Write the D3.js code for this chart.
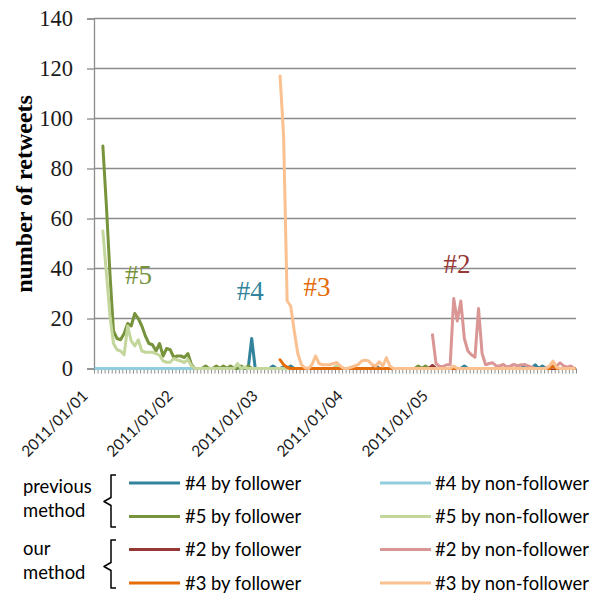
<!DOCTYPE html>
<html><head><meta charset="utf-8">
<script src="https://cdn.jsdelivr.net/npm/d3@7"></script>
<style>body{margin:0;background:#fff}svg{display:block}</style>
</head><body>
<svg id="chart" width="595" height="593"></svg>
<script>
// ---------- DATA ----------
const nCategories = 136;               // hourly categories
const dateLabels = ["2011/01/01","2011/01/02","2011/01/03","2011/01/04","2011/01/05"];
const labelEvery = 24;
const yTicks = [0,20,40,60,80,100,120,140];

// #4 by follower (starts at category 0)
const s4fStart = 0;
const s4f = [
 0,0,0,0,0,0,0,0,0,0,
 0,0,0,0,0,0,0,0,0,0,
 0,0,0,0,0,0,0,0,0,0,
 0,0,0,0,0,0,0,0,0,0,
 0,0,0,0,12,0,0,0,0,0,
 1,0,0,0.5,0,1,0,0,0,0,
 0,0,0,0,0,0,0,0,0,0,
 0,0,0,0,0,0,0,0,0,1.2,
 0,0,0,0,0,0,0,0,0,0,
 0,0,0,0,0,0,0,0,0,0,
 0,0,0,0,1,0,0,0,0,0,
 0,0,0,0,0,0,0,0,0,0,
 0,1.5,0,0,1.5,0,1,0,0,0,
 0,0,0,0,0,0];
// #4 by non-follower
const s4nfStart = 0;
const s4nf = [
 0,0,0,0,0,0,0,0,0,0,
 0,0,0,0,0,0,0,0,0,0,
 0,0,0,0,0,0,0,0,0,0,
 0,0,0,0,0,0,0,0,0,0,
 0,0,0,0,0,0,0,0,0,0,
 0,0,0,0,0,0,0,0,0,0,
 0,0,0,0,0,0,0,0,0,0,
 0,0,0,0,0,0,0,0,0,0,
 0,0,0,0,0,0,0,0,0,0,
 0,0,0,0,0,0,0,0,0,0,
 0,0,0,0,0,0,0,0,0,0,
 0,0,0,0,0,0,0,0,0,0,
 0,0,0,0,0,0,0,0,0,0,
 0,0,0,0,0,0];
// #5 by follower (starts at category 2)
const s5fStart = 2;
const s5f = [
 89,65,38,15,12,11.5,14,18,
 17,22,20,17,13,10,9.5,7,10,5,
 8,7.5,4.5,5,5,4.4,6,1.5,0,0,
 0,1,0,0,1,0,1,0,1,0,
 0,1,0,1,0,0,0,0,0,0,
 0,0,0,0,0,0,0,0,0,0,
 0,0,0,0,0,0,0,0,1,0,
 0,0,0,0,0,0,0,0,0,0,
 0,0,0,0,0,0,0,0,0,0,
 0,1,0,1,0,0,0,0,0,0,
 0,0,0,0,0,0,0,0,0,0,
 0,0,0,0,0,0,0,0,0,0,
 0,0,0,0,0,0,0,0,0,0,
 0,0,0,0,0,0];
// #5 by non-follower
const s5nfStart = 2;
const s5nf = [
 55,38,21,10,7.5,7,5.5,17,
 11,9,11.5,7,6.5,6.5,6.5,6,5.2,3,
 2.5,2.5,4,3.4,3,2.4,3.6,1,0,0,
 0,0,0,0,0,0,0,0,0,0,
 2,0,0.5,0,0,0,0,0,0,0,
 0,0,0,0,0,0,0,0,0,0,
 0,0,0,0,0,0,0,0,1,0,
 0,0,0,0,0,0,0,0,0,0,
 0,0,0,0,0,0,0,0,0,0,
 0,0,0,0,0,0,0,0,0,0,
 0,0,0,0,0,0,0,0,0,0,
 0,0,0,0,0,0,0,0,0,0,
 0,0,0,0,0,0,0,0,0,0,
 0,0,0,0,0,0];
// #2 by follower (starts at category 94)
const s2fStart = 94;
const s2f = [
 0,1.2,0,0,0,0,
 0,0,0,0,0,0,0,0,0,0,
 0,0,0,0,0,0,0,0,0,0,
 0,0,0,0,0,0,0,0,0,0,
 0,0,0,0,0,0];
// #2 by non-follower (starts at category 95)
const s2nfStart = 95;
const s2nf = [
 13.5,2,0.8,0.8,1.5,
 1.5,28,19,27,12,7,5.5,4.5,24,6,
 1.5,2,2.3,1,1,1.6,0.5,1,1.6,1,
 1.5,1.5,1,0.5,0,0,0,0,0.5,0.5,
 1,2.3,1,0.5,1,0];
// #3 by follower (starts at category 52)
const s3fStart = 52;
const s3f = [
 3.5,1.5,0.5,0,0,0,0,0,
 0,0,0,0,0,0,0,0,0,0,
 0,0,0,0,0,0,0,0,0,0,
 0,0,0,0,0,0,0,0,0,0,
 0,0,0,0,0,0,0,0,0,0,
 0,0,0,0,0,0,0,0,0,0,
 0,0,0,0,0,0,0,0,0,0,
 0,0,0,0,0,0,0,0,0,1,
 0,0,0,0,0,0];
// #3 by non-follower
const s3nfStart = 52;
const s3nf = [
 117,93,27,25,15,6,1.6,0.3,
 0,1.5,5,2,1.5,1.5,1.5,2,2.4,1,
 0,0,0.5,1,1.5,3,3.3,3,1.5,1,
 2.7,1,4.3,1,0,0,0,0,0,0,
 0,0,0,0,0,0,0,0,0,0,
 0,1,0,0,0,0,0,0,0,0,
 0,0,0,0,0,0,0,0,0,0,
 0,0,0,0,0,0,0,0,1,3,
 0.5,0,0,0,0,0];

const seriesNames  = ["#4 by follower","#4 by non-follower","#5 by follower","#5 by non-follower",
                      "#2 by follower","#2 by non-follower","#3 by follower","#3 by non-follower"];
const seriesColors = ["#31849B","#93CDDD","#77933C","#C3D69B","#953735","#D99694","#E46C0A","#FAC090"];
const seriesStarts = [s4fStart,s4nfStart,s5fStart,s5nfStart,s2fStart,s2nfStart,s3fStart,s3nfStart];
const seriesValues = [s4f,s4nf,s5f,s5nf,s2f,s2nf,s3f,s3nf];

const annotTexts  = ["#5","#4","#3","#2"];
const annotCats   = [8.75,40.3,59.1,98.6];
const annotVals   = [34,27.4,29.1,38.3];
const annotColors = ["#77933C","#31849B","#E46C0A","#953735"];

const groupLabels = [["previous","method"],["our","method"]];

// ---------- CHART ----------
const svg = d3.select("#chart");
const x0 = 94, x1 = 576, yTop = 18.5, yBot = 368.5;
const x = d3.scaleLinear().domain([0, nCategories]).range([x0, x1]);
const y = d3.scaleLinear().domain([0, 140]).range([yBot, yTop]);
const grid = "#8c8c8c";

// horizontal gridlines + y ticks
const yAxis = svg.append("g").attr("transform", `translate(${x0},0)`)
  .call(d3.axisLeft(y).tickValues(yTicks).tickSize(7).tickFormat(""));
yAxis.select(".domain").attr("stroke", grid).attr("stroke-width", 1.3);
yAxis.selectAll(".tick line").attr("stroke", grid).attr("stroke-width", 1.3);
svg.append("g").selectAll("line").data(yTicks).join("line")
  .attr("x1", x0).attr("x2", x1).attr("y1", d => y(d)).attr("y2", d => y(d))
  .attr("stroke", grid).attr("stroke-width", 1.3);
svg.append("g").selectAll("text").data(yTicks).join("text")
  .attr("x", 73).attr("y", d => y(d)).attr("dy", "0.35em")
  .attr("text-anchor", "end")
  .attr("font-family", "'Liberation Serif', serif").attr("font-size", 22.5).attr("fill", "#1a1a1a")
  .text(d => d);

// x axis with a tick at every category boundary
const xAxis = svg.append("g").attr("transform", `translate(0,${yBot})`)
  .call(d3.axisBottom(x).tickValues(d3.range(0, nCategories + 1)).tickSize(5).tickFormat(""));
xAxis.select(".domain").remove();
xAxis.selectAll(".tick line").attr("stroke", grid).attr("stroke-width", 1);

// date labels
svg.append("g").selectAll("text").data(dateLabels).join("text")
  .attr("transform", (d, k) => `translate(${x(k * labelEvery + 0.5) - 7},397) rotate(-45)`)
  .attr("text-anchor", "end")
  .attr("font-family", "Lato, sans-serif").attr("font-size", 15.5).attr("fill", "#1a1a1a")
  .text(d => d);

// y title
svg.append("text")
  .attr("transform", "translate(32,194) rotate(-90)")
  .attr("text-anchor", "middle")
  .attr("font-family", "'Liberation Serif', serif").attr("font-weight", "bold")
  .attr("font-size", 24).attr("fill", "#000")
  .text("number of retweets");

// lines
const line = d3.line()
  .x(d => x(d.i + 0.5)).y(d => y(d.v));
const gLines = svg.append("g");
seriesValues.forEach((vals, s) => {
  const pts = vals.map((v, j) => ({ i: seriesStarts[s] + j, v }));
  gLines.append("path").datum(pts)
    .attr("d", line).attr("fill", "none")
    .attr("stroke", seriesColors[s]).attr("stroke-width", 3)
    .attr("stroke-linejoin", "round").attr("stroke-linecap", "round");
});

// annotations
svg.append("g").selectAll("text").data(annotTexts).join("text")
  .attr("x", (d, k) => x(annotCats[k])).attr("y", (d, k) => y(annotVals[k]))
  .attr("font-family", "'Liberation Serif', serif").attr("font-size", 27)
  .attr("fill", (d, k) => annotColors[k])
  .text(d => d);

// legend
const rowY = [483, 516.5, 549.5, 583];
const colLineX = [[129, 180], [380, 431]];
const colTextX = [185, 435];
const legFont = 18.4;
const gLeg = svg.append("g");
seriesNames.forEach((name, s) => {
  const r = Math.floor(s / 2), c = s % 2;
  gLeg.append("line")
    .attr("x1", colLineX[c][0]).attr("x2", colLineX[c][1])
    .attr("y1", rowY[r]).attr("y2", rowY[r])
    .attr("stroke", seriesColors[s]).attr("stroke-width", 3);
  gLeg.append("text")
    .attr("x", colTextX[c]).attr("y", rowY[r]).attr("dy", "0.36em")
    .attr("font-family", "Lato, sans-serif").attr("font-size", legFont).attr("fill", "#000")
    .text(name);
});
// group labels
const groupBase = [[493, 517], [555, 579]];
groupLabels.forEach((lines, g) => {
  lines.forEach((t, k) => {
    gLeg.append("text").attr("x", 23).attr("y", groupBase[g][k])
      .attr("font-family", "Lato, sans-serif").attr("font-size", legFont).attr("fill", "#000")
      .text(t);
  });
});
// braces
const braces = [[475, 501.5, 527], [540, 566.5, 588]];
braces.forEach(([t, m, b]) => {
  gLeg.append("path")
    .attr("d", `M116,${t} L111,${t} L111,${m - 4} L104,${m} L111,${m + 4} L111,${b} L116,${b}`)
    .attr("fill", "none").attr("stroke", "#000").attr("stroke-width", 1.5)
    .attr("stroke-linejoin", "round");
});
</script>
</body></html>
